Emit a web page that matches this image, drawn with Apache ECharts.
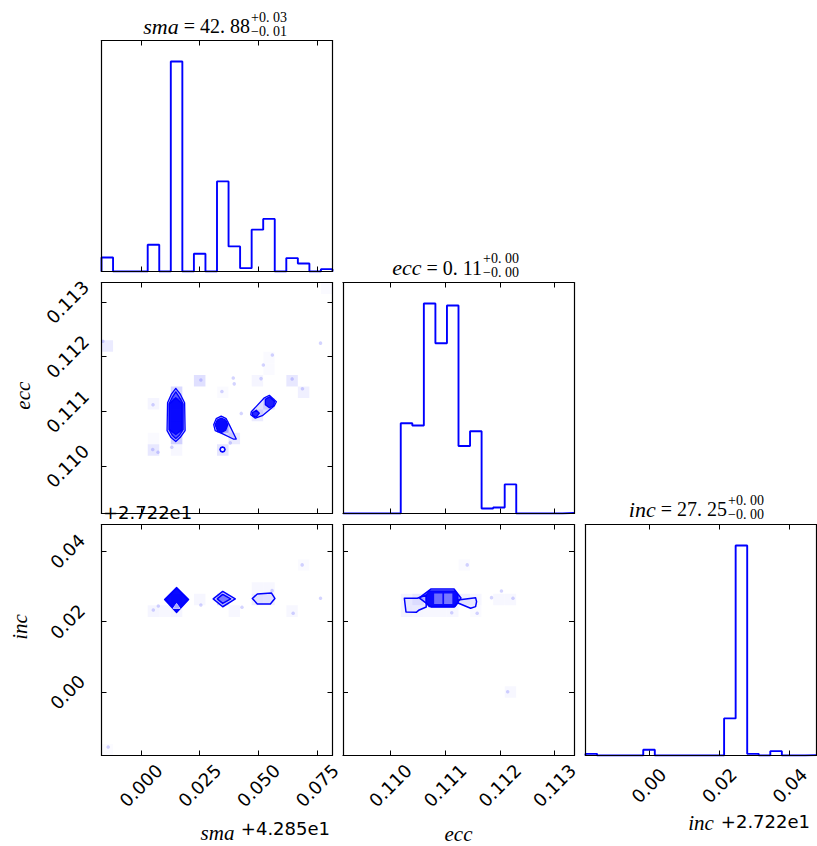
<!DOCTYPE html>
<html><head><meta charset="utf-8">
<script src="https://cdn.jsdelivr.net/npm/echarts@6/dist/echarts.min.js"></script>
<style>html,body{margin:0;padding:0;background:#fff}#c{width:817px;height:846px}</style>
</head><body><div id="c"></div>
<script>
// ---------------- data ----------------
const smaRange = [-0.0168, 0.0815];
const eccRange = [0.109133, 0.113358];
const incRange = [-0.018, 0.0476];
const smaTicks = [0, 0.025, 0.05, 0.075];
const eccTicks = [0.110, 0.111, 0.112, 0.113];
const incTicks = [0, 0.02, 0.04];

const smaHist = [42,0,0,0,80,0,627,0,53,0,269,75,10,125,157,0,40,24,0,7];
const eccHist = [0,0,0,0,0,270,263,628,509,622,202,246,15,18,87,0,0,0,0,2];
const incHist = [5,0,0,0,0,17,0,0,0,0,0,0,111,628,5,0,13,0,0,1];

const titleTexts = [
  ['sma', '42. 88', '+0. 03', '\u22120. 01'],
  ['ecc', '0. 11', '+0. 00', '\u22120. 00'],
  ['inc', '27. 25', '+0. 00', '\u22120. 00']
];
const offsetTexts = ['+4.285e1', '+2.722e1'];

// 2D histogram cells: [x, y, density]
const smaEccCells = [
  [-0.01434,0.112196,0.08],[0.02498,0.111562,0.12],[0.04955,0.111562,0.04],
  [0.06430,0.111562,0.09],[0.06921,0.111351,0.06],[0.05447,0.111773,0.02],
  [0.05447,0.111984,0.02],[0.00532,0.111140,0.04],[0.00532,0.110295,0.09],
  [0.00532,0.110506,0.02],[0.01515,0.110295,0.03],[0.03481,0.110295,0.10],
  [0.03972,0.110506,0.08],[0.03481,0.111351,0.02],[0.04955,0.110928,0.08],
  [0.05447,0.111140,0.10],[0.01515,0.110506,0.18],[0.01515,0.110717,0.4],
  [0.01515,0.110928,0.4],[0.01515,0.111140,0.4],[0.01515,0.111351,0.15],
  [0.03481,0.110717,0.25],[0.07904,0.113252,0.02]
];
const smaIncCells = [
  [0.00532,0.02300,0.04],[0.01023,0.02300,0.03],[0.01515,0.02300,0.04],
  [0.01515,0.02628,0.3],[0.02498,0.02628,0.035],[0.03481,0.02628,0.15],
  [0.03972,0.02300,0.03],[0.04955,0.02628,0.07],[0.05447,0.02628,0.06],
  [0.04955,0.02956,0.03],[0.05447,0.02956,0.03],[0.06430,0.02300,0.03],
  [0.06921,0.03612,0.02],[-0.01434,-0.01636,0.015]
];
const eccIncCells = [
  [0.110295,0.02628,0.045],[0.110295,0.02300,0.045],[0.110506,0.02628,0.09],
  [0.110506,0.02300,0.035],[0.110717,0.02300,0.03],[0.110928,0.02300,0.03],
  [0.111140,0.02300,0.03],[0.111351,0.02628,0.06],[0.111562,0.02628,0.035],
  [0.111562,0.02300,0.02],[0.111984,0.02628,0.03],[0.112196,0.02628,0.03],
  [0.111351,0.03612,0.02],[0.112196,0.00004,0.03]
];

// individual samples (outliers visible as dots)
const smaEccDots = [
  [0.07640,0.112249],[0.05591,0.112031],[0.05207,0.111849],[0.03927,0.111613],
  [0.03969,0.111504],[0.05109,0.111600],[0.06432,0.111595],[0.02548,0.111576],
  [0.03444,0.111364],[0.06872,0.111413],[0.00512,0.111122],[0.04268,0.110964],
  [0.00499,0.110304],[0.00726,0.110255],[0.01310,0.110345],[0.03799,0.110425],
  [-0.01622,0.112285]
];
const smaIncDots = [
  [0.06859,0.03613],[0.07640,0.02666],[0.06475,0.02239],[0.05578,0.02882],
  [0.04298,0.02410],[0.02548,0.02475],[0.00738,0.02447],[0.00525,0.02333],
  [-0.01396,-0.01556],[0.01494,0.02333]
];
const eccIncDots = [
  [0.111405,0.03613],[0.112031,0.02873],[0.111849,0.02683],[0.112242,0.02666],
  [0.111122,0.02256],[0.111587,0.02239],[0.112145,0.00009]
];

// contour outlines (data units)
const seBlob1Outer = [[0.01481,0.111422],[0.01665,0.111322],[0.01857,0.111158],[0.01878,0.110649],[0.01665,0.110522],[0.01481,0.110449],[0.01280,0.110522],[0.01110,0.110649],[0.01131,0.111158],[0.01302,0.111322]];
const seBlob1Mid = [[0.01481,0.111358],[0.01622,0.111267],[0.01793,0.111140],[0.01793,0.110667],[0.01622,0.110558],[0.01481,0.110504],[0.01344,0.110558],[0.01195,0.110667],[0.01195,0.111140],[0.01344,0.111267]];
const seBlob1Core = [[0.01481,0.111249],[0.01750,0.111140],[0.01750,0.110667],[0.01481,0.110576],[0.01216,0.110667],[0.01216,0.111140]];
const seBlob2Outer = [[0.03201,0.110867],[0.03414,0.110913],[0.03628,0.110867],[0.03756,0.110758],[0.04055,0.110495],[0.03927,0.110495],[0.03457,0.110595],[0.03158,0.110649],[0.03094,0.110758]];
const seBlob2Core = [[0.03244,0.110840],[0.03414,0.110876],[0.03606,0.110840],[0.03692,0.110758],[0.03606,0.110658],[0.03414,0.110613],[0.03244,0.110658],[0.03158,0.110758]];
const seRing = [[0.03577,0.110304],[0.03546,0.110336],[0.03470,0.110350],[0.03394,0.110336],[0.03363,0.110304],[0.03394,0.110272],[0.03470,0.110258],[0.03546,0.110272]];
const seBlob3Outer = [[0.04695,0.110995],[0.05250,0.111249],[0.05463,0.111295],[0.05762,0.111176],[0.05677,0.111104],[0.05164,0.110922],[0.04866,0.110876],[0.04673,0.110940]];
const seBlob3CoreA = [[0.05292,0.111222],[0.05463,0.111267],[0.05677,0.111185],[0.05655,0.111104],[0.05463,0.111067],[0.05292,0.111122]];
const seBlob3CoreB = [[0.04738,0.110976],[0.04908,0.111022],[0.05036,0.110967],[0.04908,0.110895],[0.04758,0.110922]];

const siBlobAOuter = [[0.01515,0.02973],[0.02028,0.02632],[0.01515,0.02262],[0.01003,0.02632]];
const siBlobACore = [[0.01515,0.02945],[0.01985,0.02632],[0.01515,0.02290],[0.01046,0.02632]];
const siBlobANotch = [[0.01515,0.02518],[0.01664,0.02376],[0.01366,0.02376]];
const siBlobBOuter = [[0.03073,0.02646],[0.03478,0.02859],[0.04012,0.02646],[0.03478,0.02424]];
const siBlobBInner = [[0.03244,0.02646],[0.03478,0.02774],[0.03820,0.02646],[0.03478,0.02518]];
const siBlobC = [[0.04738,0.02660],[0.04951,0.02788],[0.05548,0.02817],[0.05698,0.02660],[0.05506,0.02504],[0.04951,0.02504]];

const eiOuter = [[0.110527,0.02674],[0.110745,0.02930],[0.111164,0.02930],[0.111291,0.02674],[0.111164,0.02418],[0.110745,0.02418]];
const eiCore = [[0.110709,0.02873],[0.111182,0.02873],[0.111236,0.02759],[0.111236,0.02532],[0.111182,0.02432],[0.110709,0.02432],[0.110655,0.02532],[0.110655,0.02759]];
const eiLightA = [[0.110800,0.02802],[0.110951,0.02802],[0.110951,0.02504],[0.110800,0.02504]];
const eiLightB = [[0.110982,0.02802],[0.111133,0.02802],[0.111133,0.02504],[0.110982,0.02504]];
const eiWingL = [[0.110255,0.02666],[0.110491,0.02666],[0.110655,0.02760],[0.110655,0.02418],[0.110527,0.02333],[0.110473,0.02267],[0.110285,0.02276]];
const eiWingR = [[0.111236,0.02617],[0.111558,0.02683],[0.111576,0.02569],[0.111558,0.02427],[0.111467,0.02381],[0.111236,0.02532]];

// ---------------- layout / styles ----------------
const BLUE = '#0000ff';
const colLeft = [101.5, 343, 585.5];
const rowTop = [40.5, 282.5, 524.5];
const SIZE = 231;
const panels = [[0,0],[1,0],[1,1],[2,0],[2,1],[2,2]];
const grids = panels.map(([r,c]) => ({left: colLeft[c], top: rowTop[r], width: SIZE, height: SIZE}));

const tickFont = {fontFamily: 'DejaVu Sans', fontSize: 18, color: '#000'};
function mkAxis(g, range, ticks, fmt, pos, showLabel, isX, noTicks) {
  return {
    type: 'value', gridIndex: g, min: range[0], max: range[1], position: pos, z: 5,
    axisLine: {show: true, onZero: false, lineStyle: {color: '#000', width: 1.2}},
    splitLine: {show: false},
    axisTick: {show: !noTicks, inside: true, length: 5, customValues: ticks, lineStyle: {color: '#000', width: 1}},
    axisLabel: {show: showLabel, customValues: ticks, formatter: v => v.toFixed(fmt), rotate: 45,
      margin: isX ? 30 : 34, align: 'center', verticalAlign: 'middle', ...tickFont}
  };
}
const xAxes = [], yAxes = [];
function addAxes(g, xr, xt, xf, xLabel, yr, yt, yf, yLabel, yNoTicks) {
  xAxes.push(mkAxis(g, xr, xt, xf, 'bottom', xLabel, true, false));
  xAxes.push(mkAxis(g, xr, xt, xf, 'top', false, true, false));
  yAxes.push(mkAxis(g, yr, yt, yf, 'left', yLabel, false, yNoTicks));
  yAxes.push(mkAxis(g, yr, yt, yf, 'right', false, false, yNoTicks));
}
const hmax = a => Math.max(...a) * 1.1;
addAxes(0, smaRange, smaTicks, 3, false, [0, hmax(smaHist)], [], 0, false, true);
addAxes(1, smaRange, smaTicks, 3, false, eccRange, eccTicks, 3, true, false);
addAxes(2, eccRange, eccTicks, 3, false, [0, hmax(eccHist)], [], 0, false, true);
addAxes(3, smaRange, smaTicks, 3, true, incRange, incTicks, 2, true, false);
addAxes(4, eccRange, eccTicks, 3, true, incRange, incTicks, 2, false, false);
addAxes(5, incRange, incTicks, 2, true, [0, hmax(incHist)], [], 0, false, true);

function stepPoints(vals, range) {
  const n = vals.length, w = (range[1] - range[0]) / n;
  const pts = [[range[0], 0]];
  vals.forEach((v, i) => { pts.push([range[0] + i * w, v]); pts.push([range[0] + (i + 1) * w, v]); });
  pts.push([range[1], 0]);
  return pts;
}
function histSeries(g, vals, range) {
  return {type: 'line', xAxisIndex: 2 * g, yAxisIndex: 2 * g, data: stepPoints(vals, range),
    showSymbol: false, symbol: 'none', silent: true, clip: true,
    lineStyle: {color: BLUE, width: 1.9}, z: 3};
}
function cellSeries(g, cells, xr, yr) {
  const bw = (xr[1] - xr[0]) / 20, bh = (yr[1] - yr[0]) / 20;
  return {type: 'custom', xAxisIndex: 2 * g, yAxisIndex: 2 * g, data: cells, clip: true, silent: true, z: 1,
    renderItem(params, api) {
      const x = api.value(0), y = api.value(1), s = api.value(2);
      const p0 = api.coord([x - bw / 2, y + bh / 2]), p1 = api.coord([x + bw / 2, y - bh / 2]);
      return {type: 'rect', shape: {x: p0[0], y: p0[1], width: p1[0] - p0[0], height: p1[1] - p0[1]},
        style: {fill: 'rgba(0,0,255,' + s + ')'}};
    }};
}
function dotSeries(g, dots) {
  return {type: 'scatter', xAxisIndex: 2 * g, yAxisIndex: 2 * g, data: dots, symbolSize: 3.5, silent: true, z: 2,
    itemStyle: {color: 'rgba(40,40,255,0.25)'}};
}
function polySeries(g, polys) {
  return {type: 'custom', xAxisIndex: 2 * g, yAxisIndex: 2 * g, clip: true, silent: true, z: 3,
    data: polys.map((p, i) => [p.pts[0][0], p.pts[0][1], i]),
    renderItem(params, api) {
      const p = polys[params.dataIndex];
      return {type: 'polygon', shape: {points: p.pts.map(q => api.coord(q))},
        style: {fill: p.fill, stroke: p.stroke || null, lineWidth: p.lw || 1.3, lineJoin: 'round'}};
    }};
}
const F = a => 'rgba(0,0,255,' + a + ')';

const series = [
  histSeries(0, smaHist, smaRange),
  histSeries(2, eccHist, eccRange),
  histSeries(5, incHist, incRange),
  cellSeries(1, smaEccCells, smaRange, eccRange),
  cellSeries(3, smaIncCells, smaRange, incRange),
  cellSeries(4, eccIncCells, eccRange, incRange),
  dotSeries(1, smaEccDots), dotSeries(3, smaIncDots), dotSeries(4, eccIncDots),
  polySeries(1, [
    {pts: seBlob1Outer, fill: F(0.25), stroke: BLUE},
    {pts: seBlob1Mid, fill: F(0.45), stroke: BLUE},
    {pts: seBlob1Core, fill: F(0.85), stroke: BLUE},
    {pts: seBlob2Outer, fill: F(0.15), stroke: BLUE},
    {pts: seBlob2Core, fill: F(0.95), stroke: BLUE},
    {pts: seRing, fill: 'rgba(255,255,255,0.6)', stroke: BLUE, lw: 1.6},
    {pts: seBlob3Outer, fill: F(0.12), stroke: BLUE},
    {pts: seBlob3CoreA, fill: F(0.85), stroke: BLUE},
    {pts: seBlob3CoreB, fill: F(0.8), stroke: BLUE}
  ]),
  polySeries(3, [
    {pts: siBlobAOuter, fill: F(0.3), stroke: BLUE},
    {pts: siBlobACore, fill: F(0.95), stroke: BLUE},
    {pts: siBlobANotch, fill: 'rgba(170,170,255,1)', stroke: 'rgba(200,200,255,1)', lw: 1},
    {pts: siBlobBOuter, fill: F(0.15), stroke: BLUE, lw: 1.5},
    {pts: siBlobBInner, fill: F(0.35), stroke: BLUE, lw: 1.5},
    {pts: siBlobC, fill: F(0.06), stroke: BLUE, lw: 1.5}
  ]),
  polySeries(4, [
    {pts: eiWingL, fill: F(0.05), stroke: BLUE, lw: 1.5},
    {pts: eiWingR, fill: F(0.05), stroke: BLUE, lw: 1.5},
    {pts: eiOuter, fill: F(0.25), stroke: BLUE, lw: 1.5},
    {pts: eiCore, fill: F(0.95), stroke: BLUE},
    {pts: eiLightA, fill: 'rgba(110,110,255,1)'},
    {pts: eiLightB, fill: 'rgba(120,120,255,1)'}
  ])
];

// ---------------- texts ----------------
const serif = 'Liberation Serif';
const titlePos = [[250, 26], [482, 267.5], [727, 509]];
const graphic = [];
titleTexts.forEach((t, i) => {
  const [x, y] = titlePos[i];
  graphic.push({type: 'text', x: x, y: y, style: {text: '{i|' + t[0] + '}{n| = ' + t[1] + '}', align: 'right', verticalAlign: 'middle', fill: '#000',
    rich: {i: {fontFamily: serif, fontStyle: 'italic', fontSize: 22, fill: '#000'}, n: {fontFamily: serif, fontSize: 20, fill: '#000'}}}});
  // stacked super/subscript as one two-line text
  graphic.push({type: 'text', x: x + 1, y: y - 2, style: {text: t[2] + '\n' + t[3], font: '14px ' + serif, lineHeight: 14,
    fill: '#000', align: 'left', verticalAlign: 'middle'}});
});
const axisNameFont = 'italic 21px ' + serif;
graphic.push({type: 'text', x: 217.5, y: 833, style: {text: 'sma', font: axisNameFont, fill: '#000', align: 'center', verticalAlign: 'middle'}});
graphic.push({type: 'text', x: 458.5, y: 834, style: {text: 'ecc', font: axisNameFont, fill: '#000', align: 'center', verticalAlign: 'middle'}});
graphic.push({type: 'text', x: 701, y: 823, style: {text: 'inc', font: axisNameFont, fill: '#000', align: 'center', verticalAlign: 'middle'}});
graphic.push({type: 'text', x: 23, y: 395.7, rotation: Math.PI / 2, style: {text: 'ecc', font: axisNameFont, fill: '#000', align: 'center', verticalAlign: 'middle'}});
graphic.push({type: 'text', x: 20, y: 627, rotation: Math.PI / 2, style: {text: 'inc', font: axisNameFont, fill: '#000', align: 'center', verticalAlign: 'middle'}});
const offFont = '18px DejaVu Sans';
graphic.push({type: 'text', x: 330, y: 828, style: {text: offsetTexts[0], font: offFont, fill: '#000', align: 'right', verticalAlign: 'middle'}});
graphic.push({type: 'text', x: 810, y: 821, style: {text: offsetTexts[1], font: offFont, fill: '#000', align: 'right', verticalAlign: 'middle'}});
graphic.push({type: 'text', x: 103, y: 512.5, z: 100, style: {text: offsetTexts[1], font: offFont, fill: '#000', align: 'left', verticalAlign: 'middle'}});

const chart = echarts.init(document.getElementById('c'), null, {renderer: 'svg'});
chart.setOption({
  animation: false,
  backgroundColor: '#fff',
  grid: grids,
  xAxis: xAxes,
  yAxis: yAxes,
  series: series,
  graphic: graphic
});
</script></body></html>
